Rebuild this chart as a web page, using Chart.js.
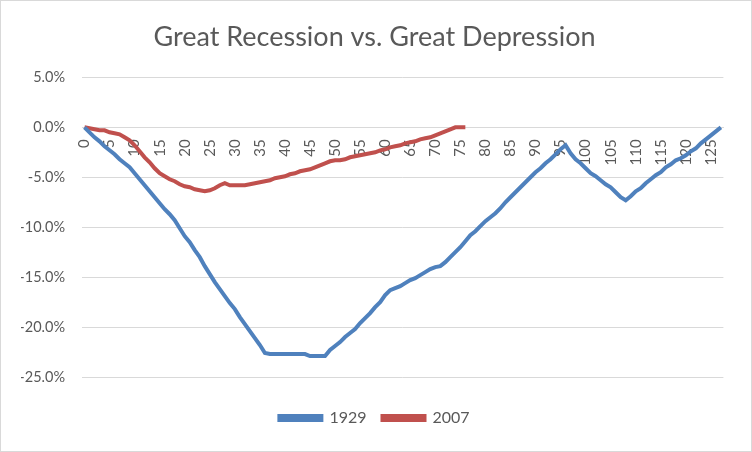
<!DOCTYPE html>
<html>
<head>
<meta charset="utf-8">
<script src="https://cdn.jsdelivr.net/npm/chart.js@4.4.1/dist/chart.umd.min.js"></script>
<style>
  html, body { margin: 0; padding: 0; background: #fff; }
  #wrap { position: relative; width: 750px; height: 450px; border: 1px solid #d9d9d9; }
</style>
</head>
<body>
<div id="wrap"><canvas id="chart"></canvas></div>
<script>
// months since the peak
const months = [];
for (let i = 0; i <= 127; i++) months.push(String(i));

// drawdown from peak, percent
const series1929 = [
  0, -0.5, -1.0, -1.4, -1.9, -2.3, -2.7, -3.2, -3.6, -4.0,
  -4.6, -5.2, -5.8, -6.4, -7.0, -7.6, -8.2, -8.7, -9.3, -10.1,
  -10.9, -11.5, -12.3, -13.0, -13.9, -14.7, -15.5, -16.2, -16.9, -17.6,
  -18.2, -19.0, -19.7, -20.4, -21.1, -21.8, -22.6, -22.7, -22.7, -22.7,
  -22.7, -22.7, -22.7, -22.7, -22.7, -22.9, -22.9, -22.9, -22.9, -22.3,
  -21.9, -21.5, -21.0, -20.6, -20.2, -19.6, -19.1, -18.6, -18.0, -17.5,
  -16.8, -16.3, -16.1, -15.9, -15.6, -15.3, -15.1, -14.8, -14.5, -14.2,
  -14.0, -13.9, -13.5, -13.0, -12.5, -12.0, -11.4, -10.8, -10.4, -9.9,
  -9.4, -9.0, -8.6, -8.1, -7.5, -7.0, -6.5, -6.0, -5.5, -5.0,
  -4.5, -4.1, -3.6, -3.2, -2.7, -2.2, -1.8, -2.6, -3.2, -3.6,
  -4.1, -4.6, -4.9, -5.3, -5.7, -6.0, -6.5, -7.0, -7.3, -6.9,
  -6.4, -6.1, -5.6, -5.2, -4.8, -4.5, -4.0, -3.7, -3.3, -3.1,
  -2.8, -2.4, -2.1, -1.6, -1.2, -0.8, -0.4, 0
];

const series2007 = [
  0, -0.1, -0.2, -0.3, -0.3, -0.5, -0.6, -0.7, -1.0, -1.3,
  -1.8, -2.4, -3.0, -3.5, -4.1, -4.6, -4.9, -5.2, -5.4, -5.7,
  -5.9, -6.0, -6.2, -6.3, -6.4, -6.3, -6.1, -5.8, -5.6, -5.8,
  -5.8, -5.8, -5.8, -5.7, -5.6, -5.5, -5.4, -5.3, -5.1, -5.0,
  -4.9, -4.7, -4.6, -4.4, -4.3, -4.2, -4.0, -3.8, -3.6, -3.4,
  -3.3, -3.3, -3.2, -3.0, -2.9, -2.8, -2.7, -2.6, -2.5, -2.3,
  -2.2, -2.0, -1.9, -1.8, -1.6, -1.5, -1.4, -1.2, -1.1, -1.0,
  -0.8, -0.6, -0.4, -0.2, 0, 0, 0
];

const textColor = '#595959';
const gridColor = '#d9d9d9';

new Chart(document.getElementById('chart'), {
    type: 'line',
    data: {
        labels: months,
        datasets: [
            {
                label: '1929',
                data: series1929,
                borderColor: '#4f81bd',
                backgroundColor: '#4f81bd',
                borderWidth: 4,
                pointRadius: 0,
                tension: 0
            },
            {
                label: '2007',
                data: series2007,
                borderColor: '#c0504d',
                backgroundColor: '#c0504d',
                borderWidth: 4,
                pointRadius: 0,
                tension: 0
            }
        ]
    },
    options: {
        responsive: true, maintainAspectRatio: false,
        animation: false,
        layout: { padding: { left: 20, right: 23, top: 15, bottom: 15 } },
        plugins: {
            title: {
                display: true,
                text: 'Great Recession vs. Great Depression',
                color: textColor,
                font: { family: 'Lato', size: 27, weight: 'normal' },
                padding: { top: 5, bottom: 24 }
            },
            legend: {
                position: 'bottom',
                title: { display: true, text: ' ', font: { size: 1, lineHeight: 1 }, padding: { top: 16, bottom: 0 } },
                labels: {
                    color: textColor,
                    font: { family: 'Lato', size: 16 },
                    boxWidth: 42, boxHeight: 4,
                    padding: 16
                }
            },
            tooltip: { enabled: false }
        },
        scales: {
            x: {
                type: 'category',
                position: { y: 0 },
                offset: true,
                grid: { display: false, drawTicks: false },
                border: { color: gridColor, width: 1 },
                ticks: {
                    color: textColor,
                    font: { family: 'Lato', size: 15 },
                    autoSkip: false,
                    minRotation: 90, maxRotation: 90,
                    padding: 12,
                    callback: function(v, i) { return i % 5 === 0 ? months[i] : ''; }
                }
            },
            y: {
                min: -25, max: 5,
                afterFit: s => { s.width = 61; },
                grid: { color: gridColor, drawTicks: false },
                border: { display: false },
                ticks: {
                    stepSize: 5,
                    color: textColor,
                    font: { family: 'Lato', size: 14.5 },
                    padding: 17,
                    callback: v => v.toFixed(1) + '%'
                }
            }
        }
    }
});
</script>
</body>
</html>
